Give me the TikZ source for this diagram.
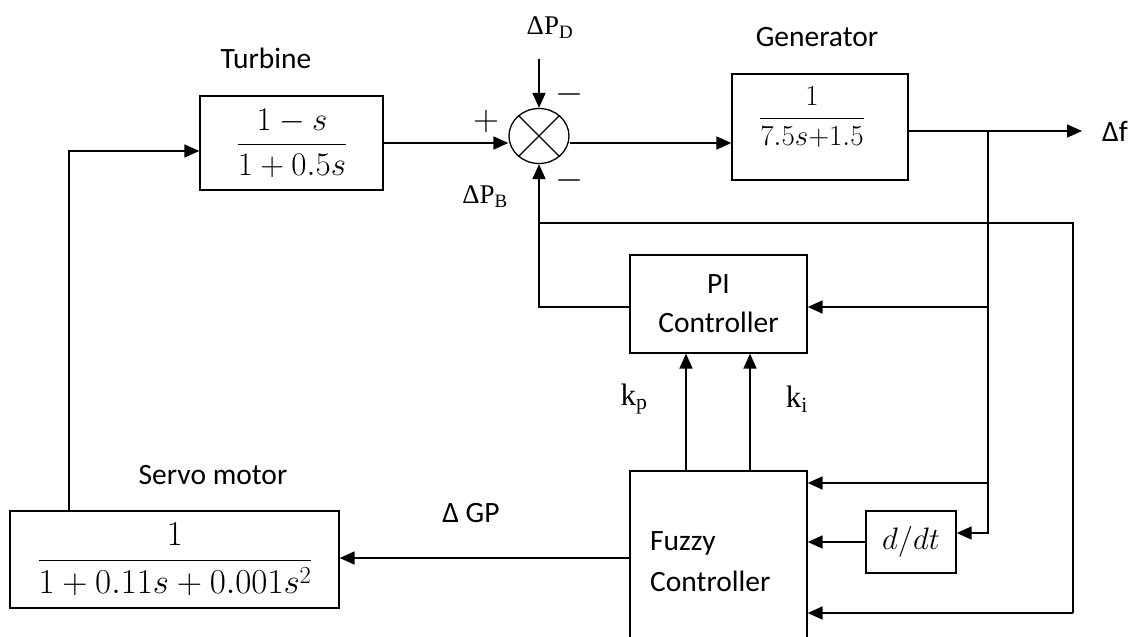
\RequirePackage{fix-cm}
\documentclass[tikz,border=0pt]{standalone}
\usepackage{amsmath}
\usepackage[no-math]{fontspec}
\setmainfont{Carlito}
\newfontfamily\serifface{Liberation Serif}
\usetikzlibrary{arrows.meta,shapes.geometric,calc}
\begin{document}
\begin{tikzpicture}[x=1pt,y=-1pt,
  box/.style={draw,line width=1.3pt,inner sep=0pt,rectangle},
  conn/.style={line width=1.7pt},
  arr/.style={conn,-{Triangle[length=15pt,width=13pt]}},
  txt/.style={font=\fontsize{29.5}{35}\selectfont,inner sep=0pt},
  sertxt/.style={font=\serifface\fontsize{27}{32}\selectfont,inner sep=0pt},
  ktxt/.style={font=\serifface\fontsize{31}{36}\selectfont,inner sep=0pt},
  sgn/.style={font=\fontsize{36}{40}\selectfont,inner sep=0pt},
  ]
\clip (0,0) rectangle (1144,637);
\fill[white] (0,0) rectangle (1144,637);
% blocks
\node[box,minimum width=183pt,minimum height=94pt] (turb) at (291.5,143) {};
\node[inner sep=0pt] (turbtf) at (292,143) {\fontsize{33}{38}\selectfont $\displaystyle\frac{1-s}{1+0.5s}$};
\node[box,minimum width=176pt,minimum height=106pt] (gen) at (820,127) {};
\node[inner sep=0pt] (gentf) at (812,117) {\fontsize{29}{34}\selectfont $\displaystyle\frac{1}{7.5s{+}1.5}$};
\node[draw,ellipse,line width=1.3pt,minimum width=60pt,minimum height=55pt,inner sep=0pt] (sum) at (539,136) {};
\draw[line width=1.3pt] (sum.45) -- (sum.225) (sum.135) -- (sum.315);
\node[box,minimum width=177pt,minimum height=98pt,align=center,font=\fontsize{29.5}{39}\selectfont] (pi) at (718.5,304) {PI\\Controller};
\node[box,minimum width=177pt,minimum height=200pt] (fz) at (718.5,571) {};
\node[txt,anchor=west,align=left,font=\fontsize{29.5}{41}\selectfont] (fztxt) at (650,562) {Fuzzy\\Controller};
\node[box,minimum width=90pt,minimum height=62pt] (ddt) at (911,542) {\fontsize{31}{34}\selectfont $d/dt$};
\node[box,minimum width=329pt,minimum height=97pt] (sv) at (174.5,559.5) {};
\node[inner sep=0pt] (svtf) at (175,559.5) {\fontsize{35}{40}\selectfont $\displaystyle\frac{1}{1+0.11s+0.001s^2}$};
% labels
\node[txt] (lturb) at (266,58) {Turbine};
\node[txt] (lgen) at (817,37) {Generator};
\node[txt] (lsv) at (213,475) {Servo motor};
\node[txt] (lgp) at (471,513) {Δ GP};
\node[txt] (df) at (1115,131) {Δf};
\node[sertxt] (lpd) at (550,28) {ΔP\textsubscript{D}};
\node[sertxt] (lpb) at (485,197) {ΔP\textsubscript{B}};
\node[ktxt] (lkp) at (634,399) {k\textsubscript{p}};
\node[ktxt] (lki) at (797,399) {k\textsubscript{i}};
\node[sgn] (plus) at (486,122) {$+$};
\node[sgn] (mtop) at (569,94) {$-$};
\node[sgn] (mbot) at (569,180) {$-$};
% coordinates
\coordinate (pdtop) at (539,59);
\coordinate (b1) at (988,131);
\coordinate (fend) at (1082,131);
\coordinate (b2) at (988,307);
\coordinate (b3) at (988,483);
\coordinate (b4) at (988,533);
\coordinate (r1) at (1073,223);
\coordinate (r2) at (1073,613);
\coordinate (l1) at (539,223);
\coordinate (p1) at (539,307);
\coordinate (kpx) at (686,0);
\coordinate (kix) at (750,0);
\coordinate (gy) at (0,558);
\coordinate (sx) at (69,0);
\coordinate (ty) at (0,151);
% connectors
\draw[arr] (turb.east) -- (turb.east -| sum.west);
\draw[arr] (pdtop) -- (sum.north);
\draw[arr] (sum.east |- turb.east) -- (gen.west |- turb.east);
\draw[arr] (gen.east |- b1) -- (fend);
\draw[arr] (b1) -- (b4) -- (b4 -| ddt.east);
\draw[arr] (b2) -- (b2 -| pi.east);
\draw[arr] (b3) -- (b3 -| fz.east);
\draw[arr] (ddt.west) -- (ddt.west -| fz.east);
\draw[conn] (l1) -- (r1) -- (r2);
\draw[arr] (r2) -- (r2 -| fz.east);
\draw[arr] (pi.west |- p1) -- (p1) -- (sum.south);
\draw[arr] (fz.north -| kpx) -- (pi.south -| kpx);
\draw[arr] (fz.north -| kix) -- (pi.south -| kix);
\draw[arr] (fz.west |- gy) -- (sv.east |- gy);
\draw[arr] (sv.north -| sx) -- (sx |- ty) -- (turb.west |- ty);
\end{tikzpicture}
\end{document}
